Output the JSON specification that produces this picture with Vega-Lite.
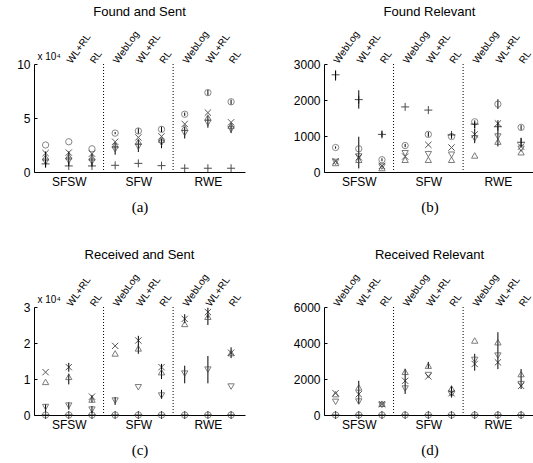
{
"$schema":"https://vega.github.io/schema/vega-lite/v6.json",
"background":"white",
"padding":{"left":16,"top":5,"right":0,"bottom":5},
"bounds":"flush",
"columns":2,
"spacing":{"row":135,"column":79},
"config":{"font":"Liberation Sans","view":{"stroke":null},"axis":{"domainColor":"#000","labelColor":"#000","tickColor":"#000","titleColor":"#000","grid":false},"title":{"color":"#000"}},
"datasets":{
"seps":[{"x":3.5},{"x":6.5}],
"pts":[
{"p":"a","pos":1,"s":"o","v":2.5},{"p":"a","pos":1,"s":"x","v":1.75},{"p":"a","pos":1,"s":"up","v":1.35},{"p":"a","pos":1,"s":"down","v":0.95,"lo":0.45,"hi":1.9},{"p":"a","pos":1,"s":"plus","v":0.75},
{"p":"a","pos":2,"s":"o","v":2.8},{"p":"a","pos":2,"s":"x","v":1.8},{"p":"a","pos":2,"s":"up","v":1.45},{"p":"a","pos":2,"s":"down","v":1.05,"lo":0.55,"hi":1.9},{"p":"a","pos":2,"s":"plus","v":0.56},
{"p":"a","pos":3,"s":"o","v":2.15},{"p":"a","pos":3,"s":"x","v":1.7},{"p":"a","pos":3,"s":"up","v":1.35},{"p":"a","pos":3,"s":"down","v":0.95,"lo":0.5,"hi":1.7},{"p":"a","pos":3,"s":"plus","v":0.56},
{"p":"a","pos":4,"s":"o","v":3.6,"lo":3.5,"hi":3.7},{"p":"a","pos":4,"s":"x","v":2.8},{"p":"a","pos":4,"s":"up","v":2.5},{"p":"a","pos":4,"s":"down","v":2.1,"lo":1.6,"hi":2.7},{"p":"a","pos":4,"s":"plus","v":0.62},
{"p":"a","pos":5,"s":"o","v":3.8,"lo":3.55,"hi":4.05},{"p":"a","pos":5,"s":"x","v":3.2},{"p":"a","pos":5,"s":"up","v":2.8},{"p":"a","pos":5,"s":"down","v":2.35,"lo":1.85,"hi":3.0},{"p":"a","pos":5,"s":"plus","v":0.8},
{"p":"a","pos":6,"s":"o","v":3.95,"lo":3.7,"hi":4.2},{"p":"a","pos":6,"s":"x","v":3.3},{"p":"a","pos":6,"s":"up","v":3.0},{"p":"a","pos":6,"s":"down","v":2.7,"lo":2.2,"hi":3.1},{"p":"a","pos":6,"s":"plus","v":0.59},
{"p":"a","pos":7,"s":"o","v":5.35,"lo":5.2,"hi":5.5},{"p":"a","pos":7,"s":"x","v":4.45},{"p":"a","pos":7,"s":"up","v":4.1},{"p":"a","pos":7,"s":"down","v":3.6,"lo":3.1,"hi":4.2},{"p":"a","pos":7,"s":"plus","v":0.35},
{"p":"a","pos":8,"s":"o","v":7.35,"lo":7.1,"hi":7.6},{"p":"a","pos":8,"s":"x","v":5.5},{"p":"a","pos":8,"s":"up","v":5.05},{"p":"a","pos":8,"s":"down","v":4.55,"lo":4.1,"hi":5.2},{"p":"a","pos":8,"s":"plus","v":0.35},
{"p":"a","pos":9,"s":"o","v":6.5,"lo":6.25,"hi":6.7},{"p":"a","pos":9,"s":"x","v":4.6},{"p":"a","pos":9,"s":"up","v":4.3},{"p":"a","pos":9,"s":"down","v":3.95,"lo":3.6,"hi":4.5},{"p":"a","pos":9,"s":"plus","v":0.35},
{"p":"b","pos":1,"s":"o","v":680,"lo":650,"hi":710},{"p":"b","pos":1,"s":"x","v":300},{"p":"b","pos":1,"s":"up","v":250},{"p":"b","pos":1,"s":"down","v":280},{"p":"b","pos":1,"s":"plus","v":2700,"lo":2540,"hi":2820},
{"p":"b","pos":2,"s":"o","v":645},{"p":"b","pos":2,"s":"x","v":410,"lo":100,"hi":980},{"p":"b","pos":2,"s":"up","v":340},{"p":"b","pos":2,"s":"down","v":430},{"p":"b","pos":2,"s":"plus","v":2010,"lo":1760,"hi":2270},
{"p":"b","pos":3,"s":"o","v":340,"lo":300,"hi":380},{"p":"b","pos":3,"s":"x","v":170},{"p":"b","pos":3,"s":"up","v":110},{"p":"b","pos":3,"s":"down","v":150},{"p":"b","pos":3,"s":"plus","v":1045,"lo":960,"hi":1130},
{"p":"b","pos":4,"s":"o","v":735,"lo":690,"hi":780},{"p":"b","pos":4,"s":"x","v":430},{"p":"b","pos":4,"s":"up","v":340},{"p":"b","pos":4,"s":"down","v":520},{"p":"b","pos":4,"s":"plus","v":1808},
{"p":"b","pos":5,"s":"o","v":1045,"lo":980,"hi":1110},{"p":"b","pos":5,"s":"x","v":755},{"p":"b","pos":5,"s":"up","v":340},{"p":"b","pos":5,"s":"down","v":495},{"p":"b","pos":5,"s":"plus","v":1720},
{"p":"b","pos":6,"s":"o","v":985},{"p":"b","pos":6,"s":"x","v":680},{"p":"b","pos":6,"s":"up","v":340},{"p":"b","pos":6,"s":"down","v":480},{"p":"b","pos":6,"s":"plus","v":1030,"lo":950,"hi":1060},
{"p":"b","pos":7,"s":"o","v":1395},{"p":"b","pos":7,"s":"x","v":1045},{"p":"b","pos":7,"s":"up","v":460},{"p":"b","pos":7,"s":"down","v":935,"lo":800,"hi":1210},{"p":"b","pos":7,"s":"plus","v":1330,"lo":1220,"hi":1400},
{"p":"b","pos":8,"s":"o","v":1885,"lo":1750,"hi":2020},{"p":"b","pos":8,"s":"x","v":1350},{"p":"b","pos":8,"s":"up","v":845},{"p":"b","pos":8,"s":"down","v":985},{"p":"b","pos":8,"s":"plus","v":1258,"lo":710,"hi":1440},
{"p":"b","pos":9,"s":"o","v":1240,"lo":1170,"hi":1300},{"p":"b","pos":9,"s":"x","v":705},{"p":"b","pos":9,"s":"up","v":550},{"p":"b","pos":9,"s":"down","v":645},{"p":"b","pos":9,"s":"plus","v":826,"lo":700,"hi":950},
{"p":"c","pos":1,"s":"o","v":0},{"p":"c","pos":1,"s":"x","v":1.19},{"p":"c","pos":1,"s":"up","v":0.92},{"p":"c","pos":1,"s":"down","v":0.22,"lo":0.1,"hi":0.3},{"p":"c","pos":1,"s":"plus","v":0},
{"p":"c","pos":2,"s":"o","v":0},{"p":"c","pos":2,"s":"x","v":1.33,"lo":1.2,"hi":1.45},{"p":"c","pos":2,"s":"up","v":1.06,"lo":0.85,"hi":1.15},{"p":"c","pos":2,"s":"down","v":0.26,"lo":0.15,"hi":0.35},{"p":"c","pos":2,"s":"plus","v":0},
{"p":"c","pos":3,"s":"o","v":0},{"p":"c","pos":3,"s":"x","v":0.51},{"p":"c","pos":3,"s":"up","v":0.43,"lo":0.35,"hi":0.55},{"p":"c","pos":3,"s":"down","v":0.15,"lo":0.05,"hi":0.25},{"p":"c","pos":3,"s":"plus","v":0},
{"p":"c","pos":4,"s":"o","v":0},{"p":"c","pos":4,"s":"x","v":1.92},{"p":"c","pos":4,"s":"up","v":1.71},{"p":"c","pos":4,"s":"down","v":0.4,"lo":0.28,"hi":0.5},{"p":"c","pos":4,"s":"plus","v":0},
{"p":"c","pos":5,"s":"o","v":0},{"p":"c","pos":5,"s":"x","v":2.07,"lo":1.93,"hi":2.2},{"p":"c","pos":5,"s":"up","v":1.85,"lo":1.7,"hi":1.95},{"p":"c","pos":5,"s":"down","v":0.77},{"p":"c","pos":5,"s":"plus","v":0},
{"p":"c","pos":6,"s":"o","v":0},{"p":"c","pos":6,"s":"x","v":1.33,"lo":1.25,"hi":1.42},{"p":"c","pos":6,"s":"up","v":1.19,"lo":1.0,"hi":1.3},{"p":"c","pos":6,"s":"down","v":0.54,"lo":0.45,"hi":0.7},{"p":"c","pos":6,"s":"plus","v":0},
{"p":"c","pos":7,"s":"o","v":0},{"p":"c","pos":7,"s":"x","v":2.67,"lo":2.55,"hi":2.8},{"p":"c","pos":7,"s":"up","v":2.53},{"p":"c","pos":7,"s":"down","v":1.15,"lo":0.88,"hi":1.37},{"p":"c","pos":7,"s":"plus","v":0},
{"p":"c","pos":8,"s":"o","v":0},{"p":"c","pos":8,"s":"x","v":2.86,"lo":2.7,"hi":2.98},{"p":"c","pos":8,"s":"up","v":2.73,"lo":2.5,"hi":2.8},{"p":"c","pos":8,"s":"down","v":1.26,"lo":0.88,"hi":1.64},{"p":"c","pos":8,"s":"plus","v":0},
{"p":"c","pos":9,"s":"o","v":0},{"p":"c","pos":9,"s":"x","v":1.73,"lo":1.58,"hi":1.88},{"p":"c","pos":9,"s":"up","v":1.72},{"p":"c","pos":9,"s":"down","v":0.79},{"p":"c","pos":9,"s":"plus","v":0},
{"p":"d","pos":1,"s":"o","v":0},{"p":"d","pos":1,"s":"x","v":1210},{"p":"d","pos":1,"s":"up","v":1160},{"p":"d","pos":1,"s":"down","v":730},{"p":"d","pos":1,"s":"plus","v":0},
{"p":"d","pos":2,"s":"o","v":0},{"p":"d","pos":2,"s":"x","v":1155,"lo":615,"hi":1900},{"p":"d","pos":2,"s":"up","v":1530},{"p":"d","pos":2,"s":"down","v":745},{"p":"d","pos":2,"s":"plus","v":0},
{"p":"d","pos":3,"s":"o","v":0},{"p":"d","pos":3,"s":"x","v":600},{"p":"d","pos":3,"s":"up","v":630},{"p":"d","pos":3,"s":"down","v":560},{"p":"d","pos":3,"s":"plus","v":0},
{"p":"d","pos":4,"s":"o","v":0},{"p":"d","pos":4,"s":"x","v":1900},{"p":"d","pos":4,"s":"up","v":2400},{"p":"d","pos":4,"s":"down","v":1470,"lo":1170,"hi":2570},{"p":"d","pos":4,"s":"plus","v":0},
{"p":"d","pos":5,"s":"o","v":0},{"p":"d","pos":5,"s":"x","v":2145},{"p":"d","pos":5,"s":"up","v":2740,"lo":2600,"hi":2950},{"p":"d","pos":5,"s":"down","v":2220},{"p":"d","pos":5,"s":"plus","v":0},
{"p":"d","pos":6,"s":"o","v":0},{"p":"d","pos":6,"s":"x","v":1210,"lo":970,"hi":1620},{"p":"d","pos":6,"s":"up","v":1475},{"p":"d","pos":6,"s":"down","v":1155},{"p":"d","pos":6,"s":"plus","v":0},
{"p":"d","pos":7,"s":"o","v":0},{"p":"d","pos":7,"s":"x","v":2835,"lo":2460,"hi":3400},{"p":"d","pos":7,"s":"up","v":4140},{"p":"d","pos":7,"s":"down","v":3060},{"p":"d","pos":7,"s":"plus","v":0},
{"p":"d","pos":8,"s":"o","v":0},{"p":"d","pos":8,"s":"x","v":2925,"lo":2550,"hi":4600},{"p":"d","pos":8,"s":"up","v":4045},{"p":"d","pos":8,"s":"down","v":3300},{"p":"d","pos":8,"s":"plus","v":0},
{"p":"d","pos":9,"s":"o","v":0},{"p":"d","pos":9,"s":"x","v":1620,"lo":1440,"hi":2555},{"p":"d","pos":9,"s":"up","v":2275},{"p":"d","pos":9,"s":"down","v":1715},{"p":"d","pos":9,"s":"plus","v":0}
]},
"concat":[
{"title":{"text":"Found and Sent","fontSize":13,"fontWeight":"normal","offset":10},"width":211,"height":108,"resolve":{"axis":{"x":"independent"}},
"layer":[
{"data":{"name":"seps"},"mark":{"type":"rule","strokeDash":[1,2],"color":"#000","strokeWidth":1},"encoding":{"x":{"field":"x","type":"quantitative","scale":{"domain":[0.5,9.6],"nice":false,"zero":false},"axis":{"orient":"bottom","values":[2,5,8],"labelExpr":"datum.value==2?'SFSW':(datum.value==5?'SFW':'RWE')","ticks":false,"labelFontSize":12,"labelPadding":4,"labelFlush":false,"title":"(a)","titleFont":"Liberation Serif","titleFontSize":15,"titleFontWeight":"normal","titlePadding":12}}}},
{"data":{"name":"pts"},"transform":[{"filter":"datum.p=='a' && isValid(datum.lo)"}],"mark":{"type":"rule","color":"#000","strokeWidth":1},"encoding":{"x":{"field":"pos","type":"quantitative","axis":null},"y":{"field":"lo","type":"quantitative","scale":{"domain":[0,10],"nice":false},"axis":{"values":[0,5,10],"labelFontSize":12,"tickSize":-3,"labelPadding":7,"title":"x 10⁴","titleAngle":0,"titleAlign":"left","titleBaseline":"bottom","titleX":3,"titleY":-3,"titleFontSize":10,"titleFontWeight":"normal"}},"y2":{"field":"hi"}}},
{"data":{"name":"pts"},"transform":[{"filter":"datum.p=='a'"}],"mark":{"type":"point","filled":false,"strokeWidth":1},"encoding":{
"x":{"field":"pos","type":"quantitative","axis":{"orient":"top","values":[2,3,4,5,6,7,8,9],"labelExpr":"['WebLog','WL+RL','RL'][(datum.value-1)%3]","labelAngle":-55,"labelAlign":"left","labelBaseline":"middle","ticks":false,"domain":false,"labelFontSize":10,"labelPadding":2,"labelFlush":false,"labelOverlap":false,"labelBound":false,"title":null}},
"y":{"field":"v","type":"quantitative","scale":{"domain":[0,10],"nice":false},"axis":{"values":[0,5,10],"labelFontSize":12,"tickSize":-3,"labelPadding":7,"title":"x 10⁴","titleAngle":0,"titleAlign":"left","titleBaseline":"bottom","titleX":3,"titleY":-3,"titleFontSize":10,"titleFontWeight":"normal"}},
"shape":{"field":"s","type":"nominal","scale":{"domain":["o","x","up","down","plus"],"range":["circle","M-1,-1L1,1M-1,1L1,-1","triangle-up","triangle-down","M-1,0L1,0M0,-1L0,1"]},"legend":null},
"color":{"field":"s","type":"nominal","scale":{"domain":["o","x","up","down","plus"],"range":["#555555","#111111","#444444","#444444","#000000"]},"legend":null},
"size":{"condition":{"test":"datum.s=='plus'","value":64},"value":40}}}
]},
{"title":{"text":"Found Relevant","fontSize":13,"fontWeight":"normal","offset":10},"width":211,"height":108,"resolve":{"axis":{"x":"independent"}},
"layer":[
{"data":{"name":"seps"},"mark":{"type":"rule","strokeDash":[1,2],"color":"#000","strokeWidth":1},"encoding":{"x":{"field":"x","type":"quantitative","scale":{"domain":[0.5,9.6],"nice":false,"zero":false},"axis":{"orient":"bottom","values":[2,5,8],"labelExpr":"datum.value==2?'SFSW':(datum.value==5?'SFW':'RWE')","ticks":false,"labelFontSize":12,"labelPadding":4,"labelFlush":false,"title":"(b)","titleFont":"Liberation Serif","titleFontSize":15,"titleFontWeight":"normal","titlePadding":12}}}},
{"data":{"name":"pts"},"transform":[{"filter":"datum.p=='b' && isValid(datum.lo)"}],"mark":{"type":"rule","color":"#000","strokeWidth":1},"encoding":{"x":{"field":"pos","type":"quantitative","axis":null},"y":{"field":"lo","type":"quantitative","scale":{"domain":[0,3000],"nice":false},"axis":{"values":[0,1000,2000,3000],"format":"d","labelFontSize":12,"tickSize":-3,"labelPadding":7,"title":null}},"y2":{"field":"hi"}}},
{"data":{"name":"pts"},"transform":[{"filter":"datum.p=='b'"}],"mark":{"type":"point","filled":false,"strokeWidth":1},"encoding":{
"x":{"field":"pos","type":"quantitative","axis":{"orient":"top","values":[1,2,3,4,5,6,7,8,9],"labelExpr":"['WebLog','WL+RL','RL'][(datum.value-1)%3]","labelAngle":-55,"labelAlign":"left","labelBaseline":"middle","ticks":false,"domain":false,"labelFontSize":10,"labelPadding":2,"labelFlush":false,"labelOverlap":false,"labelBound":false,"title":null}},
"y":{"field":"v","type":"quantitative","scale":{"domain":[0,3000],"nice":false},"axis":{"values":[0,1000,2000,3000],"format":"d","labelFontSize":12,"tickSize":-3,"labelPadding":7,"title":null}},
"shape":{"field":"s","type":"nominal","scale":{"domain":["o","x","up","down","plus"],"range":["circle","M-1,-1L1,1M-1,1L1,-1","triangle-up","triangle-down","M-1,0L1,0M0,-1L0,1"]},"legend":null},
"color":{"field":"s","type":"nominal","scale":{"domain":["o","x","up","down","plus"],"range":["#555555","#111111","#444444","#444444","#000000"]},"legend":null},
"size":{"condition":{"test":"datum.s=='plus'","value":64},"value":40}}}
]},
{"title":{"text":"Received and Sent","fontSize":13,"fontWeight":"normal","offset":10},"width":211,"height":108,"resolve":{"axis":{"x":"independent"}},
"layer":[
{"data":{"name":"seps"},"mark":{"type":"rule","strokeDash":[1,2],"color":"#000","strokeWidth":1},"encoding":{"x":{"field":"x","type":"quantitative","scale":{"domain":[0.5,9.6],"nice":false,"zero":false},"axis":{"orient":"bottom","values":[2,5,8],"labelExpr":"datum.value==2?'SFSW':(datum.value==5?'SFW':'RWE')","ticks":false,"labelFontSize":12,"labelPadding":4,"labelFlush":false,"title":"(c)","titleFont":"Liberation Serif","titleFontSize":15,"titleFontWeight":"normal","titlePadding":12}}}},
{"data":{"name":"pts"},"transform":[{"filter":"datum.p=='c' && isValid(datum.lo)"}],"mark":{"type":"rule","color":"#000","strokeWidth":1},"encoding":{"x":{"field":"pos","type":"quantitative","axis":null},"y":{"field":"lo","type":"quantitative","scale":{"domain":[0,3],"nice":false},"axis":{"values":[0,1,2,3],"labelFontSize":12,"tickSize":-3,"labelPadding":7,"title":"x 10⁴","titleAngle":0,"titleAlign":"left","titleBaseline":"bottom","titleX":3,"titleY":-3,"titleFontSize":10,"titleFontWeight":"normal"}},"y2":{"field":"hi"}}},
{"data":{"name":"pts"},"transform":[{"filter":"datum.p=='c'"}],"mark":{"type":"point","filled":false,"strokeWidth":1},"encoding":{
"x":{"field":"pos","type":"quantitative","axis":{"orient":"top","values":[2,3,4,5,6,7,8,9],"labelExpr":"['WebLog','WL+RL','RL'][(datum.value-1)%3]","labelAngle":-55,"labelAlign":"left","labelBaseline":"middle","ticks":false,"domain":false,"labelFontSize":10,"labelPadding":2,"labelFlush":false,"labelOverlap":false,"labelBound":false,"title":null}},
"y":{"field":"v","type":"quantitative","scale":{"domain":[0,3],"nice":false},"axis":{"values":[0,1,2,3],"labelFontSize":12,"tickSize":-3,"labelPadding":7,"title":"x 10⁴","titleAngle":0,"titleAlign":"left","titleBaseline":"bottom","titleX":3,"titleY":-3,"titleFontSize":10,"titleFontWeight":"normal"}},
"shape":{"field":"s","type":"nominal","scale":{"domain":["o","x","up","down","plus"],"range":["circle","M-1,-1L1,1M-1,1L1,-1","triangle-up","triangle-down","M-1,0L1,0M0,-1L0,1"]},"legend":null},
"color":{"field":"s","type":"nominal","scale":{"domain":["o","x","up","down","plus"],"range":["#555555","#111111","#444444","#444444","#000000"]},"legend":null},
"size":{"condition":{"test":"datum.s=='plus'","value":64},"value":40}}}
]},
{"title":{"text":"Received Relevant","fontSize":13,"fontWeight":"normal","offset":10},"width":211,"height":108,"resolve":{"axis":{"x":"independent"}},
"layer":[
{"data":{"name":"seps"},"mark":{"type":"rule","strokeDash":[1,2],"color":"#000","strokeWidth":1},"encoding":{"x":{"field":"x","type":"quantitative","scale":{"domain":[0.5,9.6],"nice":false,"zero":false},"axis":{"orient":"bottom","values":[2,5,8],"labelExpr":"datum.value==2?'SFSW':(datum.value==5?'SFW':'RWE')","ticks":false,"labelFontSize":12,"labelPadding":4,"labelFlush":false,"title":"(d)","titleFont":"Liberation Serif","titleFontSize":15,"titleFontWeight":"normal","titlePadding":12}}}},
{"data":{"name":"pts"},"transform":[{"filter":"datum.p=='d' && isValid(datum.lo)"}],"mark":{"type":"rule","color":"#000","strokeWidth":1},"encoding":{"x":{"field":"pos","type":"quantitative","axis":null},"y":{"field":"lo","type":"quantitative","scale":{"domain":[0,6000],"nice":false},"axis":{"values":[0,2000,4000,6000],"format":"d","labelFontSize":12,"tickSize":-3,"labelPadding":7,"title":null}},"y2":{"field":"hi"}}},
{"data":{"name":"pts"},"transform":[{"filter":"datum.p=='d'"}],"mark":{"type":"point","filled":false,"strokeWidth":1},"encoding":{
"x":{"field":"pos","type":"quantitative","axis":{"orient":"top","values":[1,2,3,4,5,6,7,8,9],"labelExpr":"['WebLog','WL+RL','RL'][(datum.value-1)%3]","labelAngle":-55,"labelAlign":"left","labelBaseline":"middle","ticks":false,"domain":false,"labelFontSize":10,"labelPadding":2,"labelFlush":false,"labelOverlap":false,"labelBound":false,"title":null}},
"y":{"field":"v","type":"quantitative","scale":{"domain":[0,6000],"nice":false},"axis":{"values":[0,2000,4000,6000],"format":"d","labelFontSize":12,"tickSize":-3,"labelPadding":7,"title":null}},
"shape":{"field":"s","type":"nominal","scale":{"domain":["o","x","up","down","plus"],"range":["circle","M-1,-1L1,1M-1,1L1,-1","triangle-up","triangle-down","M-1,0L1,0M0,-1L0,1"]},"legend":null},
"color":{"field":"s","type":"nominal","scale":{"domain":["o","x","up","down","plus"],"range":["#555555","#111111","#444444","#444444","#000000"]},"legend":null},
"size":{"condition":{"test":"datum.s=='plus'","value":64},"value":40}}}
]}
]
}
